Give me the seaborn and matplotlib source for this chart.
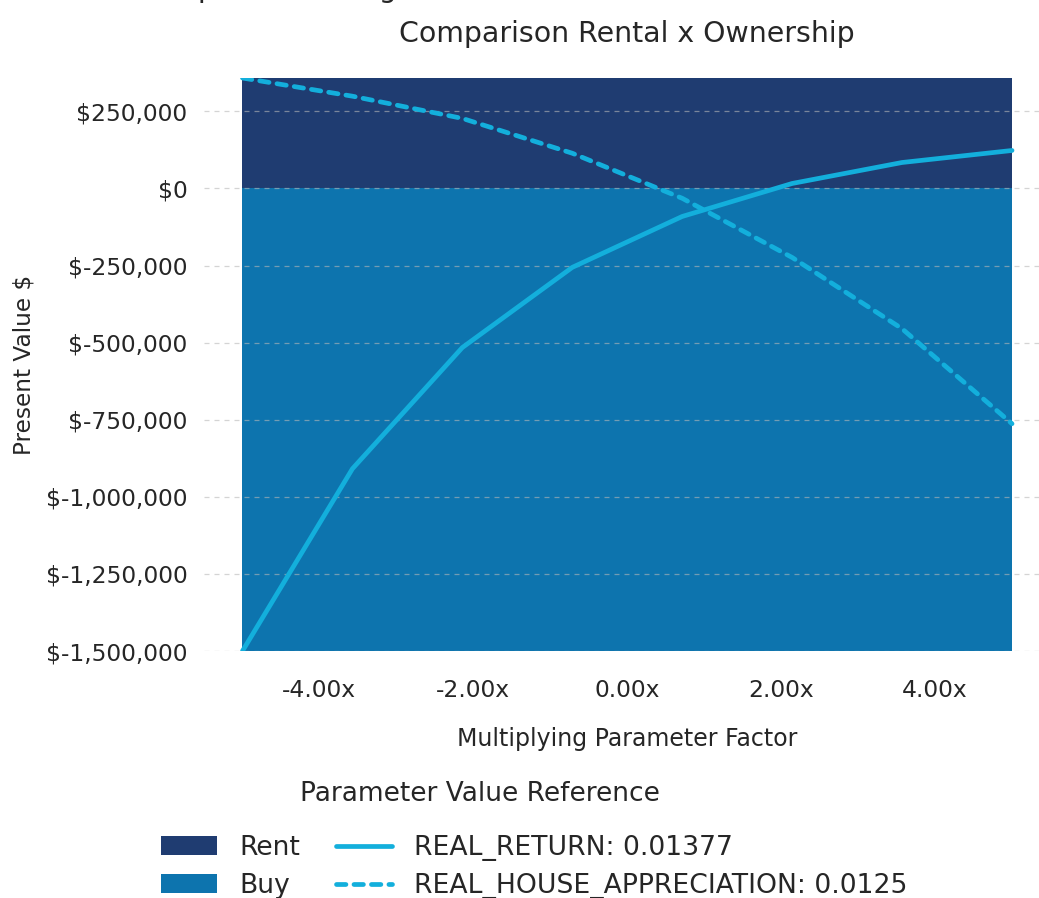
import matplotlib
matplotlib.use("Agg")
import matplotlib.pyplot as plt
import matplotlib.ticker as mticker
from matplotlib.patches import Patch
import numpy as np
import pandas as pd
import seaborn as sns

# Multiplying factor applied to each parameter
factors = [-5.0, -3.571, -2.143, -0.714, 0.714, 2.143, 3.571, 5.0]

# Present value (rent minus buy) when scaling each parameter
real_return = [-1500000, -909000, -516000, -256000, -91000, 16000, 84000, 123000]
real_house_appreciation = [358000, 299000, 227000, 114000, -32000, -224000, -455000, -763000]

series_labels = ["REAL_RETURN: 0.01377", "REAL_HOUSE_APPRECIATION: 0.0125"]
region_labels = ["Rent", "Buy"]
x_ticks = [-4, -2, 0, 2, 4]
y_ticks = [-1500000, -1250000, -1000000, -750000, -500000, -250000, 0, 250000]

RENT_COLOR = "#1f3c71"
BUY_COLOR = "#0d74ae"
LINE_COLOR = "#13afdc"
TEXT_COLOR = "#262626"

sns.set_theme(style="white")
plt.rcParams["font.family"] = ["DejaVu Sans"]
plt.rcParams["text.color"] = TEXT_COLOR
plt.rcParams["axes.labelcolor"] = TEXT_COLOR
plt.rcParams["xtick.color"] = TEXT_COLOR
plt.rcParams["ytick.color"] = TEXT_COLOR

df = pd.DataFrame({
    "factor": factors * 2,
    "value": real_return + real_house_appreciation,
    "parameter": [series_labels[0]] * len(factors) + [series_labels[1]] * len(factors),
})

fig = plt.figure(figsize=(10.39, 8.98), dpi=100)
ax = fig.add_axes([204 / 1039, 1 - 651 / 898, (1050.5 - 204) / 1039, (651 - 78) / 898])

y_top = max(max(real_return), max(real_house_appreciation))
y_bottom = min(min(real_return), min(real_house_appreciation))

# Shaded decision regions: positive favours renting, negative favours buying
ax.fill_between(factors, 0, y_top, color=RENT_COLOR, linewidth=0, zorder=1)
ax.fill_between(factors, y_bottom, 0, color=BUY_COLOR, linewidth=0, zorder=1)

sns.lineplot(
    data=df, x="factor", y="value", style="parameter",
    style_order=series_labels,
    dashes={series_labels[0]: "", series_labels[1]: (2.0, 1.7)},
    color=LINE_COLOR, linewidth=3.4, legend=False, ax=ax, zorder=3,
)
for ln in ax.get_lines():
    ln.set_dash_capstyle("round")
    ln.set_solid_capstyle("round")

ax.set_xlim(-5.5, 5.5)
ax.set_ylim(y_bottom, y_top)
ax.set_xticks(x_ticks)
ax.set_yticks(y_ticks)
ax.xaxis.set_major_formatter(mticker.FuncFormatter(lambda v, p: f"{v:.2f}x"))
ax.yaxis.set_major_formatter(mticker.FuncFormatter(lambda v, p: f"${v:,.0f}"))
ax.tick_params(axis="both", length=0, labelsize=16.8)
ax.tick_params(axis="x", pad=20)
ax.tick_params(axis="y", pad=12)

ax.set_axisbelow("line")
ax.yaxis.grid(True, linestyle=(0, (4, 4)), color="#b8b8b8", alpha=0.6, linewidth=0.9)
ax.xaxis.grid(False)
for s in ax.spines.values():
    s.set_visible(False)

ax.set_title("Comparison Rental x Ownership", fontsize=20.4, pad=26)
ax.set_xlabel("Multiplying Parameter Factor", fontsize=17, labelpad=18)
ax.set_ylabel("Present Value $", fontsize=16.7, labelpad=7)

fig.text(162 / 1039, 1 + 3 / 898, "Impact of Change in Parameters",
         fontsize=20.4, ha="left", va="baseline")

# Legend: decision regions in the first column, parameters in the second
line_handles = ax.get_lines()[:2]
handles = [Patch(facecolor=RENT_COLOR, edgecolor="none"),
           Patch(facecolor=BUY_COLOR, edgecolor="none")] + list(line_handles)
labels = region_labels + series_labels
fig.legend(handles, labels, ncol=2, frameon=False, fontsize=19.2,
           loc="upper left", bbox_to_anchor=(161 / 1039, 1 - 835 / 898),
           borderpad=0, borderaxespad=0, handlelength=2.1, handleheight=0.72,
           handletextpad=0.83, columnspacing=1.36, labelspacing=0.46)
fig.text(480 / 1039, 1 - 794 / 898, "Parameter Value Reference",
         fontsize=19, ha="center", va="center")

fig.savefig("out.png", dpi=100)
